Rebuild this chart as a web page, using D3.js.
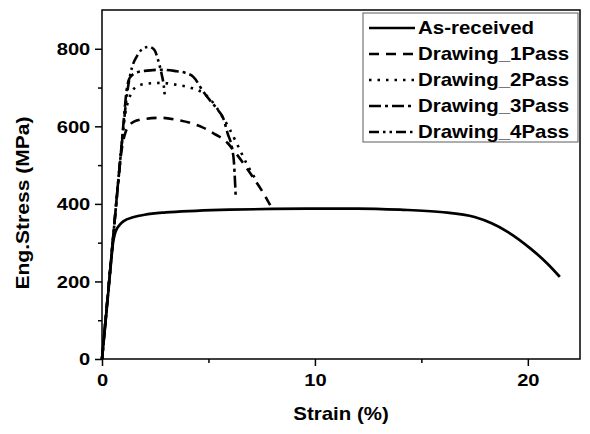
<!DOCTYPE html>
<html><head><meta charset="utf-8">
<script src="https://cdn.jsdelivr.net/npm/d3@7/dist/d3.min.js"></script>
<style>body{margin:0;background:#fff}svg{display:block}</style>
</head><body>
<script>
// ---- data (strain %, stress MPa) ----
const seriesNames = ["As-received","Drawing_1Pass","Drawing_2Pass","Drawing_3Pass","Drawing_4Pass"];
const asReceived = [[0,0],[0.2,115],[0.4,235],[0.52,300],[0.6,322],[0.7,336],[0.85,347],[1.0,355],[1.5,366],[2,372],[3,378],[4.4,382],[6,385],[8,387],[10,388],[12,388],[14,385],[15.9,379],[17.5,366],[18.3,350],[19.05,328],[20.1,286],[20.9,247],[21.5,212]];
const pass1 = [[0,0],[0.3,180],[0.6,360],[0.8,480],[0.9,530],[1.0,563],[1.1,584],[1.25,600],[1.5,612],[2.0,619],[2.8,622],[3.5,617],[4.2,608],[4.7,598],[5.2,583],[5.9,557],[6.2,537],[6.7,500],[7.1,468],[7.5,435],[7.9,397]];
const pass2 = [[0,0],[0.3,180],[0.6,360],[0.8,480],[0.9,543],[1.0,595],[1.1,635],[1.25,668],[1.4,688],[1.7,705],[2.3,711],[2.8,712],[3.5,707],[4.2,699],[4.8,684],[5.2,662],[5.6,630],[6.0,592],[6.4,548],[6.8,503],[7.25,460]];
const pass3 = [[0,0],[0.3,180],[0.6,360],[0.8,480],[0.95,570],[1.05,635],[1.15,690],[1.3,725],[1.6,738],[2.0,743],[2.8,746],[3.4,743],[3.9,738],[4.3,727],[4.75,690],[5.1,665],[5.4,645],[5.7,620],[5.9,582],[6.1,545],[6.2,505],[6.25,455],[6.28,418]];
const pass4 = [[0,0],[0.3,180],[0.6,360],[0.8,480],[0.95,565],[1.1,648],[1.2,693],[1.4,750],[1.65,782],[1.94,801],[2.2,805],[2.45,798],[2.65,768],[2.8,735],[2.9,705],[2.96,673]];
const xMajorTicks = [0,10,20];
const xMinorTicks = [5,15];
const yMajorTicks = [0,200,400,600,800];
const yMinorTicks = [100,300,500,700];
const dashes = [null,"10,7","2.5,6","12,4,3,4","10,4,2.5,4,2.5,4"];

const W=590,H=434;
const L=102,R=580,T=10,B=359;
const SX=1.17, FS=17.2;
const FONT="'Liberation Sans', Arial, sans-serif";

const svg=d3.select("body").append("svg").attr("width",W).attr("height",H);
const x=d3.scaleLinear().domain([0,22.45]).range([L,R]);
const y=d3.scaleLinear().domain([0,900]).range([B,T]);

// axes
const gx=svg.append("g").attr("transform",`translate(0,${B})`);
gx.call(d3.axisBottom(x).tickValues(xMajorTicks).tickSize(7).tickPadding(5).tickFormat(d3.format("d")));
const gxm=svg.append("g").attr("transform",`translate(0,${B})`);
gxm.call(d3.axisBottom(x).tickValues(xMinorTicks).tickSize(4).tickFormat(""));
const gy=svg.append("g").attr("transform",`translate(${L},0)`);
gy.call(d3.axisLeft(y).tickValues(yMajorTicks).tickSize(7).tickPadding(4).tickFormat(d3.format("d")));
const gym=svg.append("g").attr("transform",`translate(${L},0)`);
gym.call(d3.axisLeft(y).tickValues(yMinorTicks).tickSize(4).tickFormat(""));
svg.selectAll(".domain").remove();
svg.selectAll(".tick line").attr("stroke","#000").attr("stroke-width",1.5);
gx.selectAll(".tick text").attr("font-family",FONT).attr("font-size",FS).attr("font-weight","bold").attr("fill","#000")
  .attr("dy","0").attr("y",27).attr("transform",`scale(${SX},1)`);
gy.selectAll(".tick text").attr("font-family",FONT).attr("font-size",FS).attr("font-weight","bold").attr("fill","#000")
  .attr("dy","0.34em").attr("x",-10).attr("transform",`scale(${SX},1)`);

// frame
svg.append("rect").attr("x",L).attr("y",T).attr("width",R-L).attr("height",B-T)
  .attr("fill","none").attr("stroke","#000").attr("stroke-width",1.5);

// curves
const line=d3.line().x(d=>x(d[0])).y(d=>y(d[1])).curve(d3.curveMonotoneX);
const data=[asReceived,pass1,pass2,pass3,pass4];
data.forEach((d,i)=>{
  svg.append("path").attr("d",line(d)).attr("fill","none").attr("stroke","#000")
    .attr("stroke-width",i===0?2.7:2.6).attr("stroke-dasharray",dashes[i]);
});

// axis titles
svg.append("text").attr("transform",`translate(341,420) scale(${SX},1)`).attr("text-anchor","middle")
  .attr("font-family",FONT).attr("font-size",FS+0.3).attr("font-weight","bold").text("Strain (%)");
svg.append("text").attr("transform",`translate(29,203) rotate(-90) scale(${SX},1)`).attr("text-anchor","middle")
  .attr("font-family",FONT).attr("font-size",FS+0.8).attr("font-weight","bold").text("Eng.Stress (MPa)");

// legend
const lg=svg.append("g");
lg.append("rect").attr("x",363).attr("y",13).attr("width",215).attr("height",129)
  .attr("fill","#fff").attr("stroke","#777").attr("stroke-width",1.2);
seriesNames.forEach((n,i)=>{
  const cy=28+i*26;
  lg.append("line").attr("x1",369).attr("x2",415).attr("y1",cy).attr("y2",cy)
    .attr("stroke","#000").attr("stroke-width",2.6).attr("stroke-dasharray",dashes[i]);
  lg.append("text").attr("transform",`translate(418,${cy+6}) scale(${SX},1)`)
    .attr("font-family",FONT).attr("font-size",FS+0.3).attr("font-weight","bold").text(n);
});
</script>
</body></html>
